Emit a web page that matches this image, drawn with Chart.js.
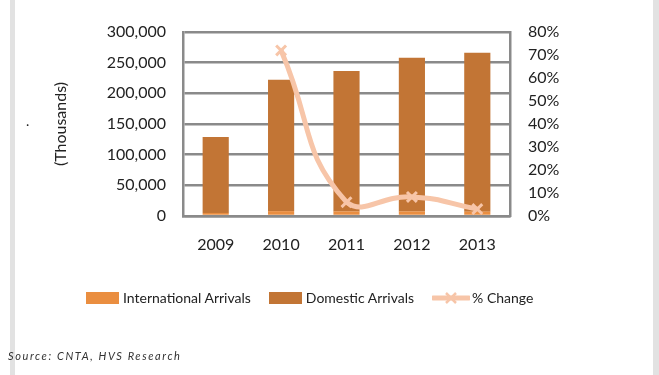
<!DOCTYPE html>
<html>
<head>
<meta charset="utf-8">
<script src="https://cdn.jsdelivr.net/npm/chart.js@4.4.1/dist/chart.umd.min.js"></script>
<style>
  html, body { margin: 0; padding: 0; background: #fff; }
  body { width: 659px; height: 375px; position: relative; overflow: hidden; font-family: Lato, sans-serif; color: #222; }
  #wrap { position: absolute; left: 0; top: 0; width: 659px; height: 375px; }
  .frame { position: absolute; top: 0; bottom: 0; width: 5px; background: #e2e2e2; }
  #legend { position: absolute; left: 86px; top: 289px; display: flex; align-items: center; font-size: 14px; white-space: nowrap; }
  .item { display: flex; align-items: center; margin-right: 18px; }
  .sw { width: 33px; height: 12px; margin-right: 4px; }
  #source { position: absolute; left: 8px; top: 349px; font-size: 11px; font-style: italic; letter-spacing: 1.6px; color: #333; }
  #dot { position: absolute; left: 26px; top: 112px; font-size: 14px; }
</style>
</head>
<body>
<div class="frame" style="left:10px"></div>
<div class="frame" style="left:653px; width:6px"></div>
<div id="wrap"><canvas id="chart"></canvas></div>
<div id="dot">.</div>
<div id="legend"></div>
<div id="source">Source: CNTA, HVS Research</div>
<script>
const years = ["2009", "2010", "2011", "2012", "2013"];
const international = [5000, 8000, 7500, 7500, 7000];
const domestic = [124000, 214000, 229000, 250500, 259000];
const pctChange = [null, 72, 6, 8.3, 3];

const intlColor = "#EA8E40";
const domColor = "#C27535";
const lineColor = "#F7C5A8";
const gridColor = "#8a8a8a";

const ctx = document.getElementById("chart").getContext("2d");

new Chart(ctx, {
  data: {
    labels: years,
    datasets: [
      {
        type: "line",
        label: "% Change",
        data: pctChange,
        yAxisID: "y1",
        borderColor: lineColor,
        backgroundColor: lineColor,
        borderWidth: 5,
        tension: 0.5,
        pointStyle: "crossRot",
        pointRadius: 7,
        pointBorderWidth: 3,
        pointBorderColor: lineColor,
        order: 0
      },
      {
        type: "bar",
        label: "International Arrivals",
        data: international,
        backgroundColor: intlColor,
        yAxisID: "y",
        order: 1
      },
      {
        type: "bar",
        label: "Domestic Arrivals",
        data: domestic,
        backgroundColor: domColor,
        yAxisID: "y",
        order: 2
      }
    ]
  },
  options: {
    responsive: true,
    maintainAspectRatio: false,
    animation: false,
    layout: { padding: { top: 32, left: 0, right: 0, bottom: 0 } },
    datasets: {
      bar: { barPercentage: 0.4, categoryPercentage: 1 }
    },
    plugins: {
      legend: { display: false },
      tooltip: { enabled: false }
    },
    scales: {
      x: {
        stacked: true,
        grid: { display: false, drawTicks: false },
        border: { color: gridColor, width: 2.5 },
        ticks: { color: "#222", font: { family: "Lato", size: 16 }, padding: 19 },
        afterFit: s => { s.height = 159; }
      },
      y: {
        stacked: true,
        min: 0,
        max: 300000,
        position: "left",
        grid: { color: gridColor, lineWidth: 2.5, drawTicks: false },
        border: { color: gridColor, width: 2.5 },
        ticks: {
          stepSize: 50000,
          padding: 17,
          color: "#222",
          font: { family: "Lato", size: 16 },
          callback: v => v.toLocaleString("en-US")
        },
        title: {
          display: true,
          text: "(Thousands)",
          color: "#222",
          font: { family: "Lato", size: 16 },
          padding: { top: 51, bottom: 0 }
        },
        afterFit: s => { s.width = 183; }
      },
      y1: {
        min: 0,
        max: 80,
        position: "right",
        grid: { display: false, drawTicks: false },
        border: { color: gridColor, width: 2.5 },
        ticks: {
          stepSize: 10,
          padding: 18,
          color: "#222",
          font: { family: "Lato", size: 16 },
          callback: v => v + "%"
        },
        afterFit: s => { s.width = 149; }
      }
    }
  }
});

// legend
const legendItems = [
  { label: "International Arrivals", color: intlColor, kind: "box" },
  { label: "Domestic Arrivals", color: domColor, kind: "box" },
  { label: "% Change", color: lineColor, kind: "line" }
];
const legendEl = document.getElementById("legend");
legendItems.forEach(it => {
  const item = document.createElement("div");
  item.className = "item";
  if (it.kind === "box") {
    const sw = document.createElement("div");
    sw.className = "sw";
    sw.style.background = it.color;
    item.appendChild(sw);
  } else {
    const ns = "http://www.w3.org/2000/svg";
    const svg = document.createElementNS(ns, "svg");
    svg.setAttribute("width", "38");
    svg.setAttribute("height", "14");
    svg.style.marginRight = "2px";
    svg.innerHTML =
      `<line x1="1" y1="7" x2="37" y2="7" stroke="${it.color}" stroke-width="5" stroke-linecap="round"/>` +
      `<line x1="14" y1="2" x2="24" y2="12" stroke="${it.color}" stroke-width="2.5"/>` +
      `<line x1="24" y1="2" x2="14" y2="12" stroke="${it.color}" stroke-width="2.5"/>`;
    item.appendChild(svg);
  }
  const t = document.createElement("span");
  t.textContent = it.label;
  item.appendChild(t);
  legendEl.appendChild(item);
});
</script>
</body>
</html>
